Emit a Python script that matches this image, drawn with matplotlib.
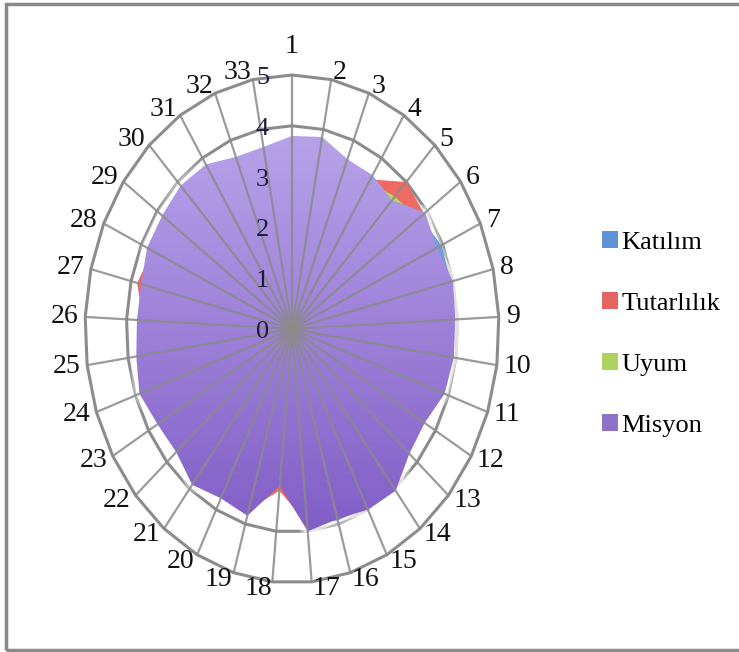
import numpy as np
import matplotlib
matplotlib.use("Agg")
import matplotlib.pyplot as plt
from matplotlib.patches import Polygon, Patch, Rectangle

# Ölçek puanları (33 madde, 0-5)
maddeler = [str(i) for i in range(1, 34)]
katilim = [3.60, 3.70, 3.45, 3.40, 3.35, 3.80, 3.97, 3.95, 3.80, 3.85, 3.75, 3.55,
           3.60, 3.90, 3.95, 3.93, 3.85, 2.95, 3.70, 3.60, 3.75, 3.55, 3.60, 3.80,
           3.65, 3.60, 3.55, 3.70, 3.70, 3.75, 3.70, 3.50, 3.50]
tutarlilik = [3.65, 3.70, 3.50, 3.50, 4.00, 3.92, 3.75, 3.85, 3.80, 3.80, 3.75, 3.55,
              3.60, 3.90, 3.85, 3.75, 3.85, 3.20, 3.70, 3.60, 3.75, 3.55, 3.60, 3.80,
              3.65, 3.60, 3.85, 3.70, 3.70, 3.75, 3.70, 3.50, 3.50]
uyum = [3.55, 3.65, 3.40, 3.45, 3.60, 3.75, 3.70, 3.80, 3.75, 3.75, 3.70, 3.50,
        3.55, 3.85, 3.80, 3.70, 3.80, 2.90, 3.65, 3.55, 3.70, 3.50, 3.55, 3.75,
        3.60, 3.55, 3.55, 3.65, 3.65, 3.70, 3.65, 3.45, 3.45]
misyon = [3.80, 3.85, 3.60, 3.60, 3.50, 3.95, 3.85, 4.00, 3.95, 3.95, 3.90, 3.70,
          3.75, 4.05, 4.00, 3.90, 4.00, 3.10, 3.83, 3.75, 3.90, 3.70, 3.75, 3.90,
          3.80, 3.75, 3.75, 3.85, 3.85, 3.90, 3.85, 3.65, 3.65]
seriler = ["Katılım", "Tutarlılık", "Uyum", "Misyon"]
renkler = ["#6ea0dc", "#ee6a62", "#b4da62", "#9a7ad6"]
lejant_renk = ["#5b92d8", "#e36461", "#abd35e", "#8f72c8"]

W, H = 739, 652
fig = plt.figure(figsize=(W / 100, H / 100), dpi=100)

# merkez ve yarıçaplar (piksel)
cx, cy, rx, ry = 292, 329, 207, 254
ax = fig.add_axes([(cx - rx) / W, (H - cy - ry) / H, 2 * rx / W, 2 * ry / H])
ax.set_xlim(-5, 5)
ax.set_ylim(-5, 5)
ax.axis("off")

n = len(maddeler)
aci = 2 * np.pi * np.arange(n) / n


def koordinat(r):
    r = np.asarray(r, dtype=float)
    return np.column_stack([r * np.sin(aci), r * np.cos(aci)])


# ızgara halkaları
for k in range(1, 6):
    ax.add_patch(Polygon(koordinat(np.full(n, k)), closed=True, fill=False,
                         ec="#8c8c8c", lw=2.2, zorder=1, clip_on=False))

# seri kenarındaki yumuşak beyaz hare
for lw, a in [(9, 0.35), (5, 0.6)]:
    ax.add_patch(Polygon(koordinat(misyon), closed=True, fill=False,
                         ec="white", lw=lw, alpha=a, zorder=1.5,
                         joinstyle="round", clip_on=False))

# seriler (Misyon en üstte)
for ad, deger, renk in zip(seriler[:3], [katilim, tutarlilik, uyum], renkler[:3]):
    ax.add_patch(Polygon(koordinat(deger), closed=True, fc=renk, ec="none",
                         zorder=2, clip_on=False))

mp = Polygon(koordinat(misyon), closed=True, fc="none", ec="none", zorder=3)
ax.add_patch(mp)
grad = np.linspace(0, 1, 256)[:, None]
c_ust = np.array([184, 164, 234]) / 255
c_alt = np.array([128, 92, 198]) / 255
img = c_ust[None, None, :] * (1 - grad[..., None]) + c_alt[None, None, :] * grad[..., None]
img = np.repeat(img, 2, axis=1)
im = ax.imshow(img, extent=(-5, 5, -4.2, 4.0), aspect="auto", zorder=3,
               interpolation="bilinear")
im.set_clip_path(mp)

# eksen çizgileri
for x, y in koordinat(np.full(n, 5)):
    ax.plot([0, x], [0, y], color="#8a8a8a", lw=1.6, alpha=0.85, zorder=4,
            solid_capstyle="butt", clip_on=False)

# madde etiketleri
for i, (x, y) in enumerate(koordinat(np.full(n, 5))):
    s, c = np.sin(aci[i]), np.cos(aci[i])
    px, py = s * rx, c * ry
    L = np.hypot(px, py)
    if abs(s) < 0.05:
        ha, va, off = "center", "bottom", (0, 16)
    else:
        ha = "left" if s > 0 else "right"
        va = "center"
        off = (7 * px / L, 7 * py / L)
    ax.annotate(maddeler[i], (x, y), xytext=off, textcoords="offset pixels",
                ha=ha, va=va, fontsize=20, family="Liberation Serif",
                color="#111111", zorder=6, annotation_clip=False)

# değer etiketleri
for k in range(0, 6):
    ax.annotate(str(k), (0, k), xytext=(-23, -3), textcoords="offset pixels",
                ha="right", va="center", fontsize=19, family="Liberation Serif",
                color="#1c1a40", zorder=6, annotation_clip=False)

tutamaclar = [Patch(fc=r, ec="none") for r in lejant_renk]
fig.legend(tutamaclar, seriler, loc="center left",
           bbox_to_anchor=(578 / W, 1 - 334 / H), frameon=False,
           prop={"family": "Liberation Serif", "size": 19},
           handlelength=0.6, handleheight=0.6, handletextpad=0.15,
           labelspacing=1.45)

# dış çerçeve
fig.patches.append(Rectangle((6 / W, 2 / H), 1.0, (H - 6) / H,
                             transform=fig.transFigure, fill=False,
                             ec="#8a8a8a", lw=2.5))

fig.savefig("out.png", dpi=100)
